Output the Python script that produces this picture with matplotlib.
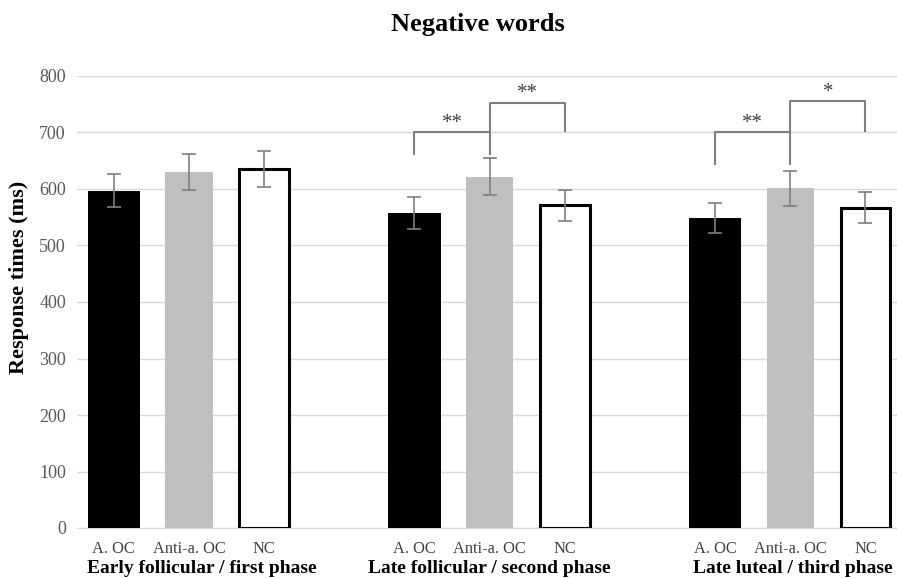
import numpy as np
import matplotlib
matplotlib.use("Agg")
import matplotlib.pyplot as plt

plt.rcParams['font.family'] = ['Liberation Serif', 'DejaVu Serif']

# mean response times (ms) and error bars per phase
phases = ["Early follicular / first phase", "Late follicular / second phase", "Late luteal / third phase"]
groups = ["A. OC", "Anti-a. OC", "NC"]
aoc = [597, 558, 549]
aoc_err = [29, 28, 27]
anti = [630, 622, 601]
anti_err = [32, 32, 31]
nc = [635, 571, 567]
nc_err = [32, 28, 28]

# significance brackets: (phase index, from group, to group, top, left leg, right leg, label)
brackets = [
    (1, 0, 1, 700, 662, 662, "**"),
    (1, 1, 2, 753, 700, 703, "**"),
    (2, 0, 1, 700, 644, 644, "**"),
    (2, 1, 2, 755, 700, 703, "*"),
]

fig = plt.figure(figsize=(8.97, 5.79), dpi=100)
ax = fig.add_axes([77 / 897, 51 / 579, 1 - 77 / 897, 452 / 579])

base = np.arange(len(phases)) * 4
errkw = dict(ecolor="#7f7f7f", elinewidth=1.2, capsize=5, capthick=1.2)

ax.bar(base, aoc, 0.70, color="black", yerr=aoc_err, error_kw=errkw, zorder=3)
ax.bar(base + 1, anti, 0.63, color="#bfbfbf", yerr=anti_err, error_kw=errkw, zorder=3)
ax.bar(base + 2, nc, 0.66, color="white", edgecolor="black", linewidth=2.2,
       yerr=nc_err, error_kw=errkw, zorder=3)

for p, g1, g2, top, l1, l2, lab in brackets:
    x1 = base[p] + g1
    x2 = base[p] + g2
    ax.plot([x1, x1, x2, x2], [l1, top, top, l2], color="#7f7f7f", lw=1.5, zorder=4)
    ax.text((x1 + x2) / 2, top + 16, lab, ha="center", va="center", fontsize=15,
            color="#404040", zorder=5)

ax.set_xlim(-0.49, 10.42)
ax.set_ylim(0, 800)
ax.set_yticks(range(0, 801, 100))
ax.tick_params(axis="y", length=0, labelsize=13, labelcolor="#595959", pad=8)
ax.set_xticks([])
ax.yaxis.grid(True, color="#d9d9d9", lw=1)
ax.set_axisbelow(True)
for s in ["top", "right", "left"]:
    ax.spines[s].set_visible(False)
ax.spines["bottom"].set_color("#d9d9d9")

# group and phase labels under the bars (first phase label is nudged right)
shift = [0.17, 0, 0.03]
for i, ph in enumerate(phases):
    for j, g in enumerate(groups):
        ax.text(base[i] + j, -37, g, ha="center", va="center", fontsize=11.8,
                color="#404040", clip_on=False)
    ax.text(base[i] + 1 + shift[i], -71, ph, ha="center", va="center", fontsize=14,
            fontweight="bold", clip_on=False)

fig.text(19 / 897, 1 - 277 / 579, "Response times (ms)", rotation=90, ha="center",
         va="center", fontsize=16, fontweight="bold")
fig.text(478 / 897, 1 - 24 / 579, "Negative words", ha="center", va="center",
         fontsize=19, fontweight="bold")

fig.savefig("out.png", dpi=100)
